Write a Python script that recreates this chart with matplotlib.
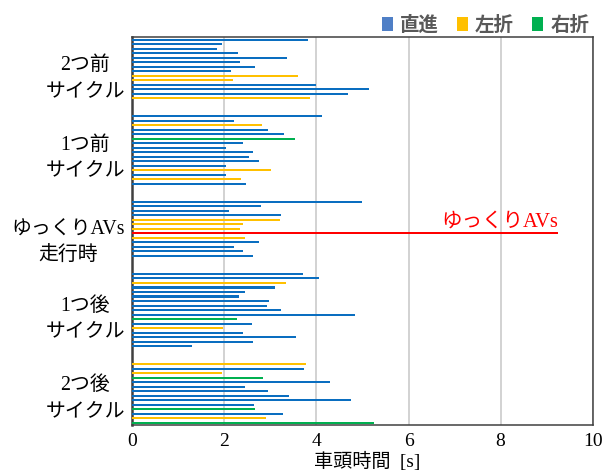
import matplotlib
matplotlib.use("Agg")
import matplotlib.pyplot as plt
from matplotlib.patches import Patch
from matplotlib.transforms import blended_transform_factory

plt.rcParams['font.family'] = ['Liberation Serif', 'Noto Sans CJK JP']

# headway values (s) and movement for each vehicle, grouped by signal cycle
group_labels = ["2つ前\nサイクル", "1つ前\nサイクル", "ゆっくりAVs\n走行時",
                "1つ後\nサイクル", "2つ後\nサイクル"]

cycle_m2_values = [3.82, 1.95, 1.85, 2.29, 3.35, 2.33, 2.67, 2.14, 3.61, 2.19,
                   3.98, 5.15, 4.68, 3.87]
cycle_m2_moves = ["直進", "直進", "直進", "直進", "直進", "直進", "直進", "直進",
                  "左折", "左折", "直進", "直進", "直進", "左折"]

cycle_m1_values = [4.11, 2.22, 2.81, 2.95, 3.29, 3.53, 2.40, 2.03, 2.62, 2.54,
                   2.76, 2.03, 3.01, 2.03, 2.36, 2.46]
cycle_m1_moves = ["直進", "直進", "左折", "直進", "直進", "右折", "直進", "直進",
                  "直進", "直進", "直進", "直進", "左折", "直進", "左折", "直進"]

av_cycle_values = [5.00, 2.79, 2.09, 3.24, 3.20, 2.40, 2.33, 9.25, 2.44, 2.76,
                   2.22, 2.40, 2.62]
av_cycle_moves = ["直進", "直進", "直進", "直進", "左折", "左折", "左折", "AV",
                  "左折", "直進", "直進", "直進", "直進"]

cycle_p1_values = [3.71, 4.05, 3.33, 3.11, 2.44, 2.32, 2.98, 2.92, 3.24, 4.83,
                   2.27, 2.59, 1.96, 2.41, 3.55, 2.62, 1.30]
cycle_p1_moves = ["直進", "直進", "左折", "直進", "直進", "直進", "直進", "直進",
                  "直進", "直進", "右折", "直進", "左折", "直進", "直進", "直進",
                  "直進"]

cycle_p2_values = [3.77, 3.74, 1.94, 2.85, 4.29, 2.44, 2.94, 3.40, 4.75, 2.65,
                   2.66, 3.27, 2.90, 5.24]
cycle_p2_moves = ["左折", "直進", "左折", "右折", "直進", "直進", "直進", "直進",
                  "直進", "直進", "右折", "直進", "左折", "右折"]

x_ticks = [0, 2, 4, 6, 8, 10]
av_label = "ゆっくりAVs"

colors = {"直進": "#0A6EC0", "左折": "#FFC000", "右折": "#00B050", "AV": "#FF0000"}
legend_colors = {"直進": "#4F7FC6", "左折": "#FFC000", "右折": "#00B050"}

groups = [(cycle_m2_values, cycle_m2_moves), (cycle_m1_values, cycle_m1_moves),
          (av_cycle_values, av_cycle_moves), (cycle_p1_values, cycle_p1_moves),
          (cycle_p2_values, cycle_p2_moves)]
gap = 3

fig = plt.figure(figsize=(6.06, 4.72), dpi=100)
ax = fig.add_axes([0.2183, 0.0996, 0.7597, 0.8214])

pos = 0
label_offsets = [2.1, 1.8, 3.1, 2.0, 1.1]
label_y = []
av_pos = None
av_val = None
for gi, (vals, moves) in enumerate(groups):
    ys = list(range(pos, pos + len(vals)))
    ax.barh(ys, vals, height=0.45, color=[colors[m] for m in moves],
            edgecolor='none', zorder=3)
    for y, v, m in zip(ys, vals, moves):
        if m == "AV":
            av_pos, av_val = y, v
    label_y.append((ys[0] + ys[-1]) / 2 + label_offsets[gi])
    pos += len(vals) + gap
n_total = pos - gap

ax.set_ylim(n_total - 0.5, -0.5)
ax.set_xlim(0, 10)
ax.set_xticks(x_ticks)
ax.set_xticklabels([str(t) for t in x_ticks], fontsize=14)
ax.set_yticks([])
ax.tick_params(axis='x', length=0, pad=6)
ax.grid(axis='x', color='#CFCFCF', linewidth=1.3, zorder=0)
ax.set_axisbelow(True)

for s in ['top', 'right', 'bottom']:
    ax.spines[s].set_color('#404040')
    ax.spines[s].set_linewidth(1.1)
ax.spines['left'].set_color('#404040')
ax.spines['left'].set_linewidth(1.8)

trans = blended_transform_factory(ax.transAxes, ax.transData)
for lab, y in zip(group_labels, label_y):
    ax.text(-0.016, y, lab, transform=trans, ha='right', va='center',
            multialignment='center', fontsize=14.3, linespacing=1.5)

ax.text(av_val, av_pos - 1.5, av_label, color='#FF0000', fontsize=14.8,
        ha='right', va='baseline')

# axis title placed directly below the tick labels
fig.text(0.605, 0.011, "車頭時間  [s]", fontsize=13.8, ha='center', va='baseline')

handles = [Patch(facecolor=c, edgecolor='none', label=k)
           for k, c in legend_colors.items()]
leg = fig.legend(handles=handles, loc='center', bbox_to_anchor=(0.801, 0.947),
                 ncol=3, frameon=False, handlelength=0.6, handleheight=0.75,
                 handletextpad=0.35, columnspacing=0.9,
                 prop={'family': 'Noto Sans CJK JP', 'weight': 'bold', 'size': 14})
for t in leg.get_texts():
    t.set_color('#595959')

fig.savefig("out.png", dpi=100)
